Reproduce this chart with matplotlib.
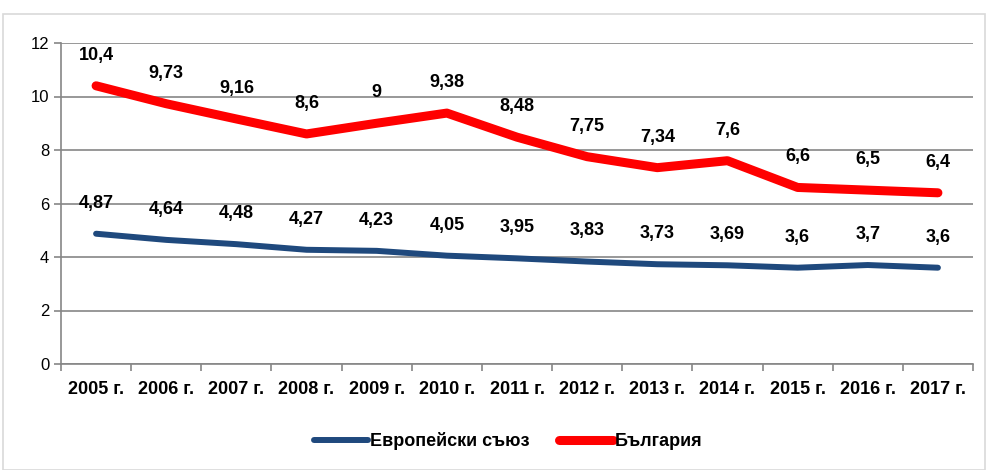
import matplotlib.pyplot as plt
from matplotlib.patches import Rectangle
import numpy as np

years = ["2005 г.", "2006 г.", "2007 г.", "2008 г.", "2009 г.", "2010 г.", "2011 г.",
         "2012 г.", "2013 г.", "2014 г.", "2015 г.", "2016 г.", "2017 г."]
eu_vals = [4.87, 4.64, 4.48, 4.27, 4.23, 4.05, 3.95, 3.83, 3.73, 3.69, 3.6, 3.7, 3.6]
bg_vals = [10.4, 9.73, 9.16, 8.6, 9, 9.38, 8.48, 7.75, 7.34, 7.6, 6.6, 6.5, 6.4]
eu_name = "Европейски съюз"
bg_name = "България"

plt.rcParams['font.family'] = ['Liberation Sans', 'DejaVu Sans']

fig = plt.figure(figsize=(9.89, 4.70), dpi=100)
# outer chart frame
fig.patches.append(Rectangle((3 / 989, 0), 982 / 989, (470 - 14) / 470, transform=fig.transFigure,
                             fill=False, edgecolor="#d9d9d9", linewidth=1.2))
ax = fig.add_axes([61 / 989, (470 - 364) / 470, (973 - 61) / 989, (364 - 43) / 470])

x = np.arange(len(years))
grid_c = "#868686"

ax.plot(x, eu_vals, color="#1F497D", linewidth=4.3, solid_capstyle="round", label=eu_name, zorder=3)
ax.plot(x, bg_vals, color="#FF0000", linewidth=6.5, solid_capstyle="round", label=bg_name, zorder=3)

def fmt(v):
    s = f"{v:.2f}".rstrip("0").rstrip(".")
    return s.replace(".", ",")

for xi, v in zip(x, eu_vals):
    ax.annotate(fmt(v), (xi, v), xytext=(0, 22), textcoords="offset points", ha="center",
                va="center", fontsize=13, fontweight="bold")
for xi, v in zip(x, bg_vals):
    ax.annotate(fmt(v), (xi, v), xytext=(0, 22), textcoords="offset points", ha="center",
                va="center", fontsize=13, fontweight="bold")

ax.set_xlim(-0.5, len(years) - 0.5)
ax.set_ylim(0, 12)
ax.set_yticks(range(0, 13, 2))
ax.yaxis.grid(True, color=grid_c, linewidth=1.2)
ax.set_axisbelow(True)

ax.set_xticks(x)
ax.set_xticklabels(years, fontweight="bold", fontsize=13)
ax.set_xticks(np.arange(-0.5, len(years)), minor=True)
ax.tick_params(axis="x", which="major", length=0, pad=12)
ax.tick_params(axis="x", which="minor", length=5, color=grid_c, width=1.2)
ax.tick_params(axis="y", length=5, color=grid_c, width=1.2, labelsize=12)

for s in ["top", "right"]:
    ax.spines[s].set_visible(False)
for s in ["left", "bottom"]:
    ax.spines[s].set_color(grid_c)
    ax.spines[s].set_linewidth(1.2)

leg = fig.legend(loc="center", bbox_to_anchor=(0.514, (470 - 441) / 470), ncol=2, frameon=False,
                 prop={"weight": "bold", "size": 13}, handlelength=3.0, handletextpad=0.1,
                 columnspacing=1.6)

plt.savefig("out.png", dpi=100)
